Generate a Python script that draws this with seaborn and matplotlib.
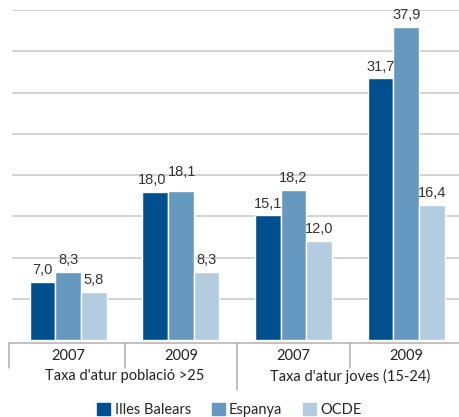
import seaborn as sns
import matplotlib.pyplot as plt
import pandas as pd

years = ["2007", "2009", "2007", "2009"]
groups = ["Taxa d'atur població >25", "Taxa d'atur joves (15-24)"]
series = ["Illes Balears", "Espanya", "OCDE"]
illes_balears = [7.0, 18.0, 15.1, 31.7]
espanya = [8.3, 18.1, 18.2, 37.9]
ocde = [5.8, 8.3, 12.0, 16.4]
colors = ["#00508f", "#6699bf", "#b3cce0"]

rows = []
for name, vals in zip(series, [illes_balears, espanya, ocde]):
    for i, v in enumerate(vals):
        rows.append({"pos": str(i), "serie": name, "valor": v})
df = pd.DataFrame(rows)

sns.set_style("white")
plt.rcParams["font.family"] = ["Lato", "DejaVu Sans"]

fig = plt.figure(figsize=(4.59, 4.17), dpi=100)
ax = fig.add_axes([12 / 459, 77 / 417, 450.5 / 459, 330 / 417])

sns.barplot(data=df, x="pos", y="valor", hue="serie", order=["0", "1", "2", "3"],
            hue_order=series, palette=colors, width=0.684, saturation=1,
            ax=ax, legend=False)

ax.set_ylim(0, 40)
ax.set_xlim(-0.5, 3.5)
for y in range(5, 45, 5):
    ax.axhline(y, color="#c8c8c8", lw=1.1, zorder=0)
ax.set_yticks([])
ax.set_xticks([])
ax.set_xlabel("")
ax.set_ylabel("")
for s in ax.spines.values():
    s.set_visible(False)

all_labels = []
for cont in ax.containers:
    anns = ax.bar_label(cont, labels=[f"{v:.1f}".replace(".", ",") for v in cont.datavalues],
                        padding=3.5, fontsize=10.5, color="#333333", family="Liberation Sans")
    all_labels.append(anns)
# keep the two 2009 labels of the first group from overlapping (as in the original)
all_labels[0][1].xyann = (-2, 3.5)
all_labels[1][1].xyann = (1, 8.5)

# two-level category axis
trans = ax.get_xaxis_transform()
px = 1 / 330  # axes fraction per pixel (vertical)
line_kw = dict(color="#b0b0b0", lw=1.1, transform=trans, clip_on=False)
ax.plot([-0.53, 3.6], [-3 * px, -3 * px], **line_kw)
for x, depth in [(-0.53, 25), (0.5, 25), (1.5, 47), (2.5, 25)]:
    ax.plot([x, x], [-3 * px, -(3 + depth) * px], **line_kw)
for i, yr in enumerate(years):
    ax.text(i, -16 * px, yr, transform=trans, ha="center", va="center",
            fontsize=10.5, color="#222222")
for i, g in enumerate(groups):
    ax.text(0.5 + 2 * i, -36 * px, g, transform=trans, ha="center", va="center",
            fontsize=10.5, color="#222222")

handles = [plt.Rectangle((0, 0), 1, 1, color=c) for c in colors]
fig.legend(handles, series, loc="center", bbox_to_anchor=(0.5, 7 / 417), ncol=3,
           frameon=False, fontsize=10.5, handlelength=0.9, handleheight=0.9,
           handletextpad=0.3, columnspacing=1.4, borderpad=0)

fig.savefig("out.png", dpi=100)
